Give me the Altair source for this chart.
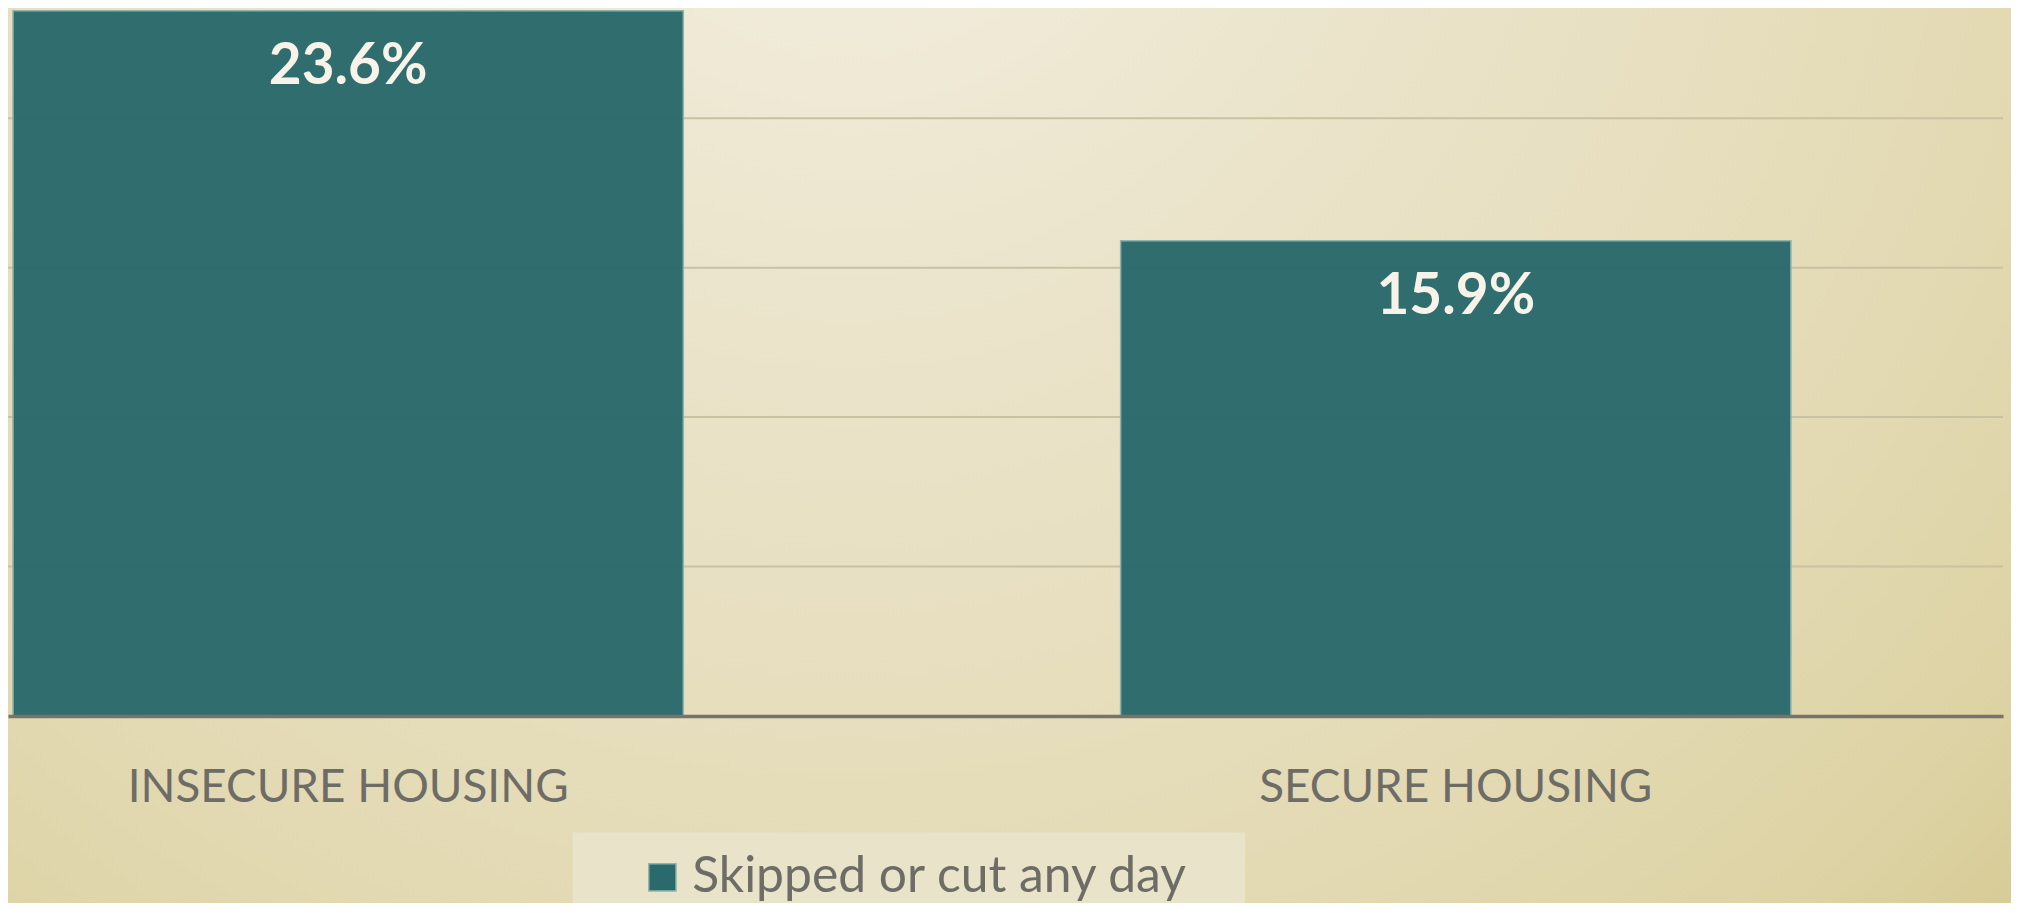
import altair as alt
import pandas as pd

categories = ["INSECURE HOUSING", "SECURE HOUSING"]
values = [23.6, 15.9]
value_labels = ["23.6%", "15.9%"]
series_name = "Skipped or cut any day"
grid_values = [5, 10, 15, 20]

df = pd.DataFrame({
    "category": categories,
    "value": values,
    "label": value_labels,
    "series": [series_name] * len(categories),
})
grid_df = pd.DataFrame({"g": grid_values})

BAR = "#2b6a6c"
TEXT_GRAY = "#6e6c66"
W, H = 2003, 709

bg = alt.Chart(alt.Data(values=[{"k": 1}])).mark_rect(
    clip=False,
    fill=alt.Gradient(
        gradient="radial",
        x1=0.42, y1=0.0, r1=0.0,
        x2=0.42, y2=0.0, r2=1.0,
        stops=[
            alt.GradientStop(color="#f4f0e2", offset=0.0),
            alt.GradientStop(color="#eae3c9", offset=0.3),
            alt.GradientStop(color="#e3dab4", offset=0.58),
            alt.GradientStop(color="#ddd3a5", offset=0.72),
            alt.GradientStop(color="#d6cb94", offset=0.82),
            alt.GradientStop(color="#d3c78e", offset=1.0),
        ],
    ),
).encode(
    x=alt.value(-8), x2=alt.value(W + 16), y=alt.value(-8), y2=alt.value(1572)
)

yscale = alt.Scale(domain=[0, 23.63], nice=False, zero=True)

grid = alt.Chart(grid_df).mark_rule(
    color="#c8c1a2", strokeWidth=2
).encode(
    y=alt.Y("g:Q", scale=yscale, axis=None),
)

xenc = alt.X(
    "category:N",
    sort=categories,
    title=None,
    scale=alt.Scale(paddingInner=0.3948, paddingOuter=0.098, align=0.023),
    axis=alt.Axis(
        labelAngle=0,
        labelFont="Lato",
        labelFontSize=46,
        labelColor=TEXT_GRAY,
        labelPadding=50,
        labelLimit=0,
        ticks=False,
        domainColor="#77736b",
        domainWidth=3.5,
        grid=False,
        zindex=1,
    ),
)

bars = alt.Chart(df).mark_bar(
    fillOpacity=0.98,
    stroke="#8fb4ae",
    strokeWidth=1.5,
).encode(
    x=xenc,
    y=alt.Y("value:Q", scale=yscale, title=None, axis=None),
    color=alt.Color(
        "series:N",
        scale=alt.Scale(range=[BAR]),
        legend=alt.Legend(
            title=None,
            orient="none",
            legendX=567,
            legendY=826,
            padding=20,
            fillColor="#e9e3c9",
            symbolType="square",
            symbolSize=750,
            symbolStrokeColor="#8fb4ae",
            symbolStrokeWidth=1.5,
            symbolOpacity=1,
            symbolOffset=45,
            labelOffset=5,
            labelFont="Lato",
            labelFontSize=50,
            labelColor=TEXT_GRAY,
            labelLimit=0,
            labelExpr="datum.label + '\u2800'",
        ),
    ),
)

texts = alt.Chart(df).mark_text(
    font="Lato",
    fontWeight="bold",
    fontSize=57,
    color="#f7f3e8",
    baseline="alphabetic",
    align="center",
    dy=74,
).encode(
    x=alt.X("category:N", sort=categories),
    y=alt.Y("value:Q", scale=yscale),
    text="label:N",
)

chart = alt.layer(bg, grid, bars, texts).properties(
    width=W,
    height=H,
    autosize=alt.AutoSizeParams(type="none"),
    padding={"left": 0, "top": 0, "right": 8, "bottom": 186},
).configure_view(stroke=None).configure(background="#e8e0c0")

chart.save("out.html", embed_options={"renderer": "svg", "actions": False})
